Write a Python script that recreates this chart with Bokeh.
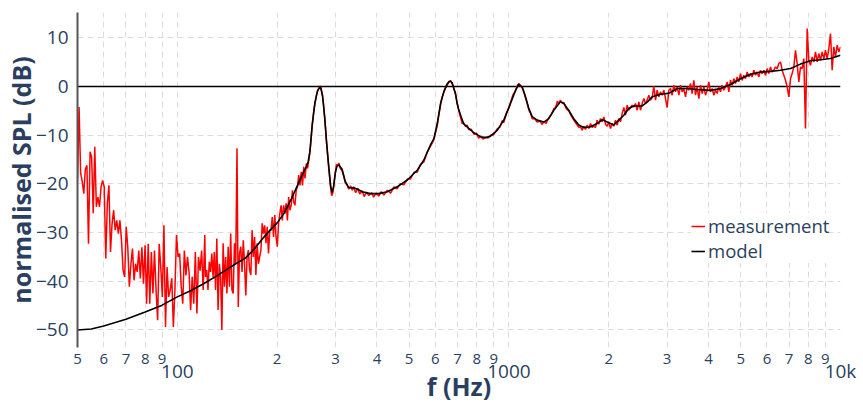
import numpy as np
from bokeh.plotting import figure
from bokeh.models import (FixedTicker, LogAxis, CustomJSTickFormatter, Span,
                          Legend, LegendItem, Range1d)
from bokeh.embed import file_html
from bokeh.resources import INLINE

# ---------------- data ----------------
model_f = [50, 55, 60, 70, 80, 90, 100, 110, 120, 130,
           140, 150, 160, 170, 180, 190, 200, 210, 220, 230,
           240, 245, 248, 251, 255, 260, 265, 270, 274, 278,
           282, 286, 290, 293, 296, 300, 303, 307, 314, 321,
           329, 340, 350, 361, 382, 405, 430, 460, 494, 529,
           554, 580, 594, 608, 622, 636, 650, 659, 667, 675,
           682, 690, 698, 705, 715, 731, 757, 784, 821, 850,
           880, 922, 965, 1011, 1047, 1071, 1097, 1122, 1148, 1176,
           1217, 1274, 1319, 1366, 1430, 1464, 1516, 1569, 1625, 1682,
           1754, 1846, 1912, 1979, 2072, 2145, 2221, 2299, 2380, 2523,
           2613, 2705, 2866, 3036, 3217, 3449, 3697, 4054, 4346, 4660,
           4994, 5354, 5738, 6151, 6592, 7068, 7574, 8119, 8702, 9328, 10000]
model_db = [-50.0, -49.8, -49.2, -47.8, -46.3, -44.9, -43.2, -41.9, -40.5, -39.1,
            -37.7, -36.4, -35.3, -33.5, -31.4, -29.6, -28.0, -26.0, -23.3, -20.4,
            -17.6, -16.5, -15.5, -13.5, -8.0, -3.3, -0.8, 0.0, -1.8, -6.0,
            -11.5, -16.2, -20.4, -21.8, -20.5, -17.5, -16.4, -16.1, -17.0, -19.5,
            -20.8, -20.8, -21.1, -21.6, -22.0, -22.0, -21.6, -20.6, -19.2, -17.2,
            -15.1, -12.0, -10.7, -7.6, -3.5, -1.1, 0.4, 1.0, 1.1, 0.7,
            -0.4, -1.4, -3.5, -4.6, -5.9, -7.7, -8.6, -9.5, -10.3, -10.5,
            -10.2, -9.0, -6.9, -3.5, -0.8, 0.5, -0.1, -2.1, -4.5, -6.2,
            -6.9, -7.3, -6.6, -4.9, -3.1, -3.5, -4.9, -6.6, -7.9, -8.4,
            -8.3, -7.6, -6.8, -7.3, -7.9, -6.9, -5.9, -4.5, -4.0, -4.0,
            -3.2, -2.1, -1.6, -1.4, -0.4, -0.4, -0.6, -0.8, -0.4, 0.4,
            1.6, 2.5, 3.0, 3.1, 3.35, 3.7, 4.6, 5.3, 5.5, 5.75, 6.4]

# measurement, 50 Hz .. 121 Hz (evenly spaced on the log axis)
meas_low_db = [-19.0, -4.2, -17.8, -19.5, -22.0, -17.0, -16.2, -32.3, -13.4, -14.5,
               -26.0, -12.4, -24.7, -22.7, -24.7, -20.6, -19.3, -20.6, -35.3, -24.0,
               -20.3, -34.0, -28.2, -25.4, -29.5, -27.5, -30.2, -27.5, -31.6, -37.7,
               -39.1, -28.8, -33.0, -41.1, -36.4, -33.3, -39.8, -36.4, -38.1, -33.7,
               -39.4, -33.0, -40.5, -32.6, -44.6, -32.3, -44.6, -34.0, -42.5, -33.7,
               -41.8, -48.0, -32.3, -37.1, -43.2, -28.5, -49.4, -37.1, -43.2, -41.8,
               -39.4, -49.4, -41.8, -30.5, -35.0, -34.3, -41.1, -44.6, -33.7, -38.8,
               -35.0, -38.1, -45.9, -39.1, -44.6, -34.0, -46.6, -35.0, -37.8, -33.7,
               -41.8, -30.5]
# measurement, 121.6 Hz .. 249 Hz
meas_mid_db = [-39.1, -37.7, -41.8, -36.0, -38.1, -34.3, -39.1, -34.0, -41.8, -31.2,
               -45.9, -36.4, -39.1, -50.0, -32.2, -41.1, -35.0, -42.5, -32.9, -41.1,
               -30.2, -41.8, -42.5, -32.2, -36.4, -12.7, -45.3, -34.3, -32.9, -38.1,
               -31.6, -36.4, -42.9, -35.0, -33.6, -37.7, -38.7, -29.5, -35.0, -30.9,
               -38.7, -32.2, -36.4, -35.0, -33.6, -28.1, -30.2, -28.5, -32.2, -28.8,
               -34.3, -29.5, -29.5, -26.8, -30.9, -26.4, -30.9, -32.9, -28.1, -26.1,
               -24.4, -27.5, -24.4, -26.1, -24.0, -27.5, -22.7, -25.4, -24.4, -21.3,
               -23.7, -24.4, -21.3, -20.6, -18.2, -20.3, -17.5, -20.3, -16.5, -18.9,
               -15.8, -16.8, -15.1]
# measurement, resonance region 252 Hz .. 1625 Hz
meas_res_f = [252, 255, 258, 260, 263, 265, 268, 270, 272, 274,
              276, 278, 280, 282, 284, 286, 288, 290, 292, 294,
              296, 298, 300, 302, 304, 307, 310, 314, 318, 321,
              325, 329, 333, 337, 340, 345, 350, 355, 361, 366,
              372, 378, 385, 391, 398, 405, 412, 420, 430, 440,
              450, 460, 470, 482, 494, 505, 517, 529, 541, 554,
              567, 580, 594, 600, 608, 615, 622, 629, 636, 643,
              650, 659, 667, 675, 682, 690, 698, 705, 715, 723,
              731, 740, 748, 757, 770, 784, 800, 810, 821, 835,
              850, 865, 880, 900, 922, 940, 955, 965, 985, 1000,
              1011, 1030, 1047, 1060, 1071, 1085, 1097, 1110, 1122, 1135,
              1148, 1160, 1176, 1195, 1217, 1240, 1260, 1274, 1295, 1319,
              1340, 1366, 1385, 1400, 1414, 1430, 1447, 1464, 1490, 1516,
              1540, 1569, 1595, 1625]
meas_res_db = [-12.5, -8.3, -5.0, -3.6, -1.6, -0.9, -0.2, 0.1, -0.7, -1.9,
               -3.6, -6.2, -8.8, -11.7, -14.2, -16.5, -18.7, -20.8, -22.4, -22.0,
               -20.8, -18.9, -17.4, -16.0, -16.3, -15.7, -16.8, -17.3, -18.6, -19.8,
               -20.2, -21.1, -20.4, -21.3, -20.6, -21.8, -20.9, -22.1, -21.4, -22.6,
               -21.7, -22.4, -21.8, -22.7, -21.9, -22.5, -21.6, -22.3, -21.3, -21.9,
               -20.6, -21.0, -20.0, -20.2, -19.0, -19.0, -17.6, -17.6, -16.0, -15.5,
               -13.5, -12.3, -10.9, -9.6, -8.0, -5.8, -3.8, -2.2, -1.3, -0.3,
               0.2, 0.9, 1.2, 0.5, -0.3, -1.6, -3.3, -4.8, -6.4, -7.6,
               -7.5, -8.2, -7.9, -8.9, -8.8, -9.8, -9.6, -10.6, -10.2, -10.8,
               -10.4, -10.6, -10.0, -9.9, -8.7, -8.3, -7.0, -7.4, -5.3, -4.4,
               -3.3, -1.6, -0.9, 0.2, 0.6, 0.1, -0.3, -1.2, -2.3, -3.4,
               -4.8, -5.4, -6.6, -6.6, -7.3, -7.1, -7.8, -7.2, -7.6, -6.4,
               -5.8, -4.6, -4.2, -3.0, -3.6, -2.8, -3.4, -3.3, -4.6, -5.0,
               -6.0, -6.9, -7.6, -8.4]
# measurement, 1644 Hz .. 10 kHz (evenly spaced on the log axis)
meas_high_db = [-8.28, -8.97, -8.15, -8.83, -7.94, -8.63, -7.60, -8.42, -8.15, -8.42,
                -6.92, -7.74, -6.58, -7.26, -6.24, -7.74, -8.15, -7.26, -8.63, -7.60,
                -8.15, -6.92, -7.94, -6.58, -7.26, -5.55, -4.31, -5.89, -3.84, -4.87,
                -4.31, -3.84, -4.18, -3.49, -4.87, -3.15, -4.87, -3.49, -2.47, -3.49,
                -2.81, -1.79, -2.81, -2.27, 0.06, -2.81, -0.76, -2.13, -1.10, -1.79,
                -0.76, -2.47, -4.31, -0.76, -0.42, -1.79, 0.27, -1.10, -0.08, -1.79,
                0.27, -1.10, -0.42, -2.13, -0.08, -0.76, 0.61, -1.44, 1.29, -1.79,
                -0.08, -2.47, 0.27, -1.44, -0.08, -1.79, -0.76, 0.95, -1.10,
                -0.42, -1.79, -0.76, -1.44, -0.08, -1.10, 0.27, -0.76, -0.08, 0.95,
                -1.10, 1.29, 0.27, 1.63, 0.61, 1.97, 0.95, 2.65, 1.29, 2.31,
                1.63, 3.00, 1.97, 2.65, 1.97, 3.34, 2.31, 3.00, 1.97, 3.34,
                2.65, 3.34, 2.31, 3.68, 2.65, 4.02, 3.00, 3.34, 4.02, 3.68,
                4.71, 5.05, 3.34, 2.31, 1.29, -0.08, -2.13, 1.63, 2.65, 4.02,
                7.45, 4.71, 0.95, 4.02, 3.68, 5.74, -8.63, 11.9, 5.39, 4.36,
                6.08, 5.05, 7.11, 5.05, 6.77, 5.39, 7.11, 5.74, 7.45, 5.74,
                7.80, 10.88, 3.34, 8.14, 6.08, 8.48, 7.11, 8.14]

minor_ticks = [50, 60, 70, 80, 90, 200, 300, 400, 500, 600, 700, 800, 900,
               2000, 3000, 4000, 5000, 6000, 7000, 8000, 9000]
major_ticks = [100, 1000, 10000]
y_ticks = [-50, -40, -30, -20, -10, 0, 10]

meas_f = np.concatenate([
    np.geomspace(50, 121.0, len(meas_low_db)),
    np.geomspace(121.6, 249.2, len(meas_mid_db)),
    np.array(meas_res_f, dtype=float),
    np.geomspace(1644, 10000, len(meas_high_db)),
])
meas_db = np.concatenate([meas_low_db, meas_mid_db, meas_res_db, meas_high_db])

# ---------------- figure ----------------
TEXT = "#2a3f5f"
FONT = "Open Sans"

p = figure(width=863, height=405, x_axis_type="log",
           x_range=Range1d(50, 10000), y_range=Range1d(-53.6, 15.2),
           output_backend="svg", toolbar_location=None,
           min_border_left=77, min_border_right=23,
           min_border_top=12, min_border_bottom=58)
p.outline_line_color = None
p.background_fill_color = "white"
p.border_fill_color = "white"

# grids
p.xgrid.ticker = FixedTicker(ticks=minor_ticks + major_ticks)
for g in (p.xgrid, p.ygrid):
    g.grid_line_color = "#dcdcdc"
    g.grid_line_dash = "6 4"
    g.grid_line_width = 1

zero = Span(location=0, dimension="width", line_color="black",
            line_width=1.3, level="underlay")
p.add_layout(zero)

# x axis: single digits
ax = p.xaxis[0]
ax.ticker = FixedTicker(ticks=minor_ticks)
ax.formatter = CustomJSTickFormatter(code="return String(Math.round(tick)).charAt(0);")
ax.axis_line_color = None
ax.major_tick_line_color = None
ax.minor_tick_line_color = None
ax.major_label_standoff = 0
ax.major_label_text_font = FONT
ax.major_label_text_font_size = "15px"
ax.major_label_text_color = TEXT

# x axis: decades + title
ax2 = LogAxis(ticker=FixedTicker(ticks=major_ticks),
              formatter=CustomJSTickFormatter(
                  code='return tick >= 9999 ? "10k" : String(Math.round(tick));'))
ax2.axis_line_color = None
ax2.major_tick_line_color = None
ax2.minor_tick_line_color = None
ax2.major_label_standoff = -15
ax2.major_label_text_font = FONT
ax2.major_label_text_font_size = "19px"
ax2.major_label_text_color = TEXT
ax2.axis_label = "f (Hz)"
ax2.axis_label_standoff = -18
ax2.axis_label_text_font = FONT
ax2.axis_label_text_font_size = "25px"
ax2.axis_label_text_font_style = "bold"
ax2.axis_label_text_color = TEXT
p.add_layout(ax2, "below")

# y axis
ay = p.yaxis[0]
ay.ticker = FixedTicker(ticks=y_ticks)
ay.formatter = CustomJSTickFormatter(
    code="return tick < 0 ? '\u2212' + Math.abs(tick) : String(tick);")
ay.axis_line_color = "#555555"
ay.axis_line_width = 2
ay.major_tick_line_color = None
ay.minor_tick_line_color = None
ay.major_label_standoff = 3
ay.major_label_text_font = FONT
ay.major_label_text_font_size = "19px"
ay.major_label_text_color = TEXT
ay.axis_label = "normalised SPL (dB)"
ay.axis_label_standoff = -5
ay.axis_label_text_font = FONT
ay.axis_label_text_font_size = "25px"
ay.axis_label_text_font_style = "bold"
ay.axis_label_text_color = TEXT

# data
r_meas = p.line(meas_f, meas_db, line_color="#ff0000", line_width=1.5)
r_model = p.line(model_f, model_db, line_color="black", line_width=1.6)

legend = Legend(items=[LegendItem(label="measurement", renderers=[r_meas]),
                       LegendItem(label="model", renderers=[r_model])],
                location=(614, 84), margin=0, padding=3, spacing=0,
                glyph_width=14, glyph_height=20, label_height=20,
                label_standoff=3,
                label_text_font=FONT, label_text_font_size="18.5px",
                label_text_color=TEXT,
                border_line_color=None,
                background_fill_color="white", background_fill_alpha=1.0)
p.add_layout(legend)

open("out.html", "w").write(file_html(p, INLINE))
